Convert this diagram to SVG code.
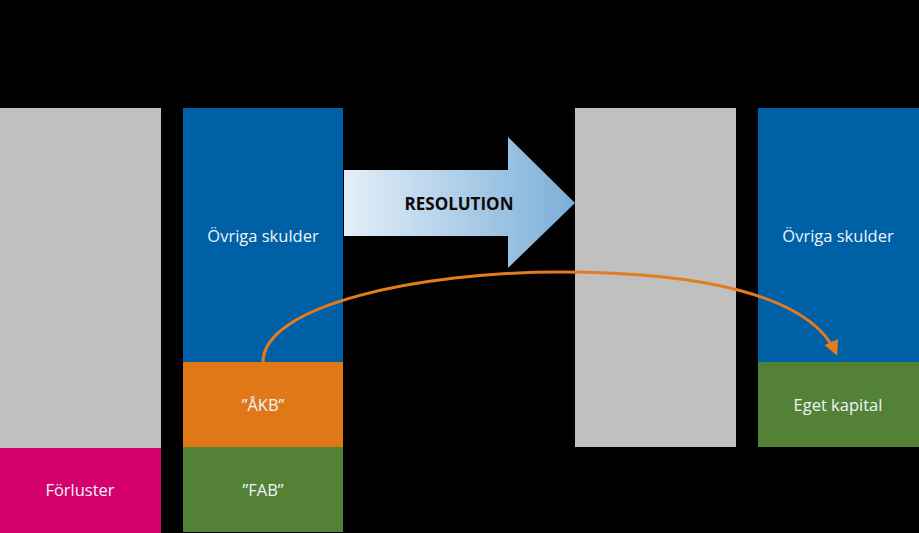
<svg xmlns="http://www.w3.org/2000/svg" width="919" height="533" viewBox="0 0 919 533">
  <defs>
    <linearGradient id="arrowGrad" x1="344" y1="0" x2="575" y2="0" gradientUnits="userSpaceOnUse">
      <stop offset="0" stop-color="#e4eef8"/>
      <stop offset="1" stop-color="#7aaed8"/>
    </linearGradient>
    <marker id="arrowhead" viewBox="0 0 10 10" refX="8" refY="5" markerWidth="5" markerHeight="5" orient="auto" markerUnits="strokeWidth">
      <path d="M0,0 L10,5 L0,10 z" fill="#e47c1e"/>
    </marker>
    <style>
      .gray { fill: #c0c0c0; }
      .blue { fill: #0060a6; }
      .orange { fill: #e07817; }
      .green { fill: #538135; }
      .magenta { fill: #d4006c; }
      .lbl { font-family: "Open Sans", "Noto Sans", "Liberation Sans", sans-serif; font-size: 16.5px; fill: #eef4fa; text-anchor: middle; }
      .bold { font-family: "Open Sans", "Noto Sans", "Liberation Sans", sans-serif; font-size: 17px; font-weight: bold; fill: #0a0a0a; text-anchor: middle; }
    </style>
  </defs>
  <rect x="0" y="0" width="919" height="533" fill="#000000"/>

  <g id="forluster-gray">
    <rect class="gray" x="0" y="108" width="161" height="340"/>
  </g>
  <g id="forluster">
    <rect class="magenta" x="0" y="448" width="161" height="85"/>
    <text class="lbl" x="80" y="496">Förluster</text>
  </g>
  <g id="ovriga-skulder-1">
    <rect class="blue" x="183" y="108" width="160" height="254"/>
    <text class="lbl" x="263" y="242">Övriga skulder</text>
  </g>
  <g id="akb">
    <rect class="orange" x="183" y="362" width="160" height="85"/>
    <text class="lbl" x="263" y="411">”ÅKB”</text>
  </g>
  <g id="fab">
    <rect class="green" x="183" y="447" width="160" height="85"/>
    <text class="lbl" x="263" y="496">”FAB”</text>
  </g>
  <g id="resolution">
    <path d="M344,170 L508,170 L508,137 L575,203 L508,268 L508,236 L344,236 z" fill="url(#arrowGrad)"/>
    <text class="bold" x="459" y="210">RESOLUTION</text>
  </g>
  <g id="gray-right">
    <rect class="gray" x="575" y="108" width="161" height="339"/>
  </g>
  <g id="ovriga-skulder-2">
    <rect class="blue" x="758" y="108" width="161" height="254"/>
    <text class="lbl" x="838" y="242">Övriga skulder</text>
  </g>
  <g id="eget-kapital">
    <rect class="green" x="758" y="362" width="161" height="85"/>
    <text class="lbl" x="838" y="411">Eget kapital</text>
  </g>

  <g id="connectors">
    <path d="M263,362 C263,305 420,272 560,272 C700,272 810,295 836,353" fill="none" stroke="#e47c1e" stroke-width="3" marker-end="url(#arrowhead)"/>
  </g>
</svg>
